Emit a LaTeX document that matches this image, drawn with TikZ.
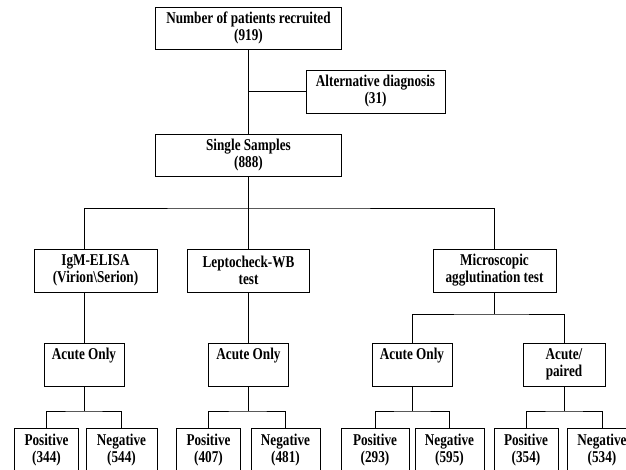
\documentclass[tikz,border=0pt]{standalone}
\usepackage{fontspec}
\setmainfont{Liberation Serif}[FakeStretch=0.8]
\tikzset{
  x=1pt, y=-1pt,
  line width=1.3pt,
}
\tikzstyle{every node}=[font=\bfseries\fontsize{16.5}{17}\selectfont]
\tikzstyle{box}=[draw, align=center, inner sep=0pt, minimum height=43]
\tikzstyle{leaf}=[box, minimum height=45]

\begin{document}
\begin{tikzpicture}
        \useasboundingbox (0,0) rectangle (626,469);
        \clip (0,0) rectangle (626,469);
        % patients
        \node[box, minimum width=186, minimum height=42] (recruited) at (248.5,28)
        {Number of patients recruited\\(919)};
        \node[box, minimum width=139] (altdiag) at (375.5,91.5)
        {Alternative diagnosis\\(31)};
        \node[box, minimum width=186, minimum height=42] (single) at (248.5,155)
        {Single Samples\\(888)};
        % tests
        \node[box, minimum width=123] (igm) at (95.5,270.5)
        {IgM-ELISA\\(Virion\textbackslash Serion)};
        \node[box, minimum width=122] (lepto) at (248.5,270.5)
        {Leptocheck-WB\\test};
        \node[box, minimum width=123] (mat) at (494.5,270.5)
        {Microscopic\\agglutination test};
        % samples
        \node[box, minimum width=80] (acute1) at (84,364.5) {Acute Only\\\strut};
        \node[box, minimum width=80] (acute2) at (248.5,364.5) {Acute Only\\\strut};
        \node[box, minimum width=80] (acute3) at (412,364.5) {Acute Only\\\strut};
        \node[box, minimum width=82] (acute4) at (564,364.5) {Acute/\\paired};
        % results
        \node[leaf, minimum width=64] (pos1) at (46.5,450.5) {Positive\\(344)};
        \node[leaf, minimum width=71] (neg1) at (121.5,450.5) {Negative\\(544)};
        \node[leaf, minimum width=64] (pos2) at (208.5,450.5) {Positive\\(407)};
        \node[leaf, minimum width=69] (neg2) at (285.5,450.5) {Negative\\(481)};
        \node[leaf, minimum width=68] (pos3) at (375,450.5) {Positive\\(293)};
        \node[leaf, minimum width=69] (neg3) at (449.5,450.5) {Negative\\(595)};
        \node[leaf, minimum width=64] (pos4) at (526,450.5) {Positive\\(354)};
        \node[leaf, minimum width=70] (neg4) at (602,450.5) {Negative\\(534)};
        % connectors
        \draw (recruited.south) -- (single.north);
        \draw (altdiag.west) -- (altdiag.west -| recruited.south);
        \coordinate (split) at (248.5,208);
        \draw (single.south) -- (split) -- (lepto.north);
        \draw (acute1 |- igm.north) |- (split) -| (mat.north);
        \draw (acute1 |- igm.south) -- (acute1.north);
        \draw (lepto.south) -- (acute2.north);
        \coordinate (matsplit) at (494.5,314);
        \draw (mat.south) -- (matsplit);
        \draw (acute3.north) |- (matsplit) -| (acute4.north);
        \foreach \i in {1,...,4}{
          \draw (acute\i.south) -- (acute\i.south |- 0,411);
          \draw (pos\i.north) |- (acute\i.south |- 0,411) -| (neg\i.north);
        }
      \end{tikzpicture}
\end{document}
